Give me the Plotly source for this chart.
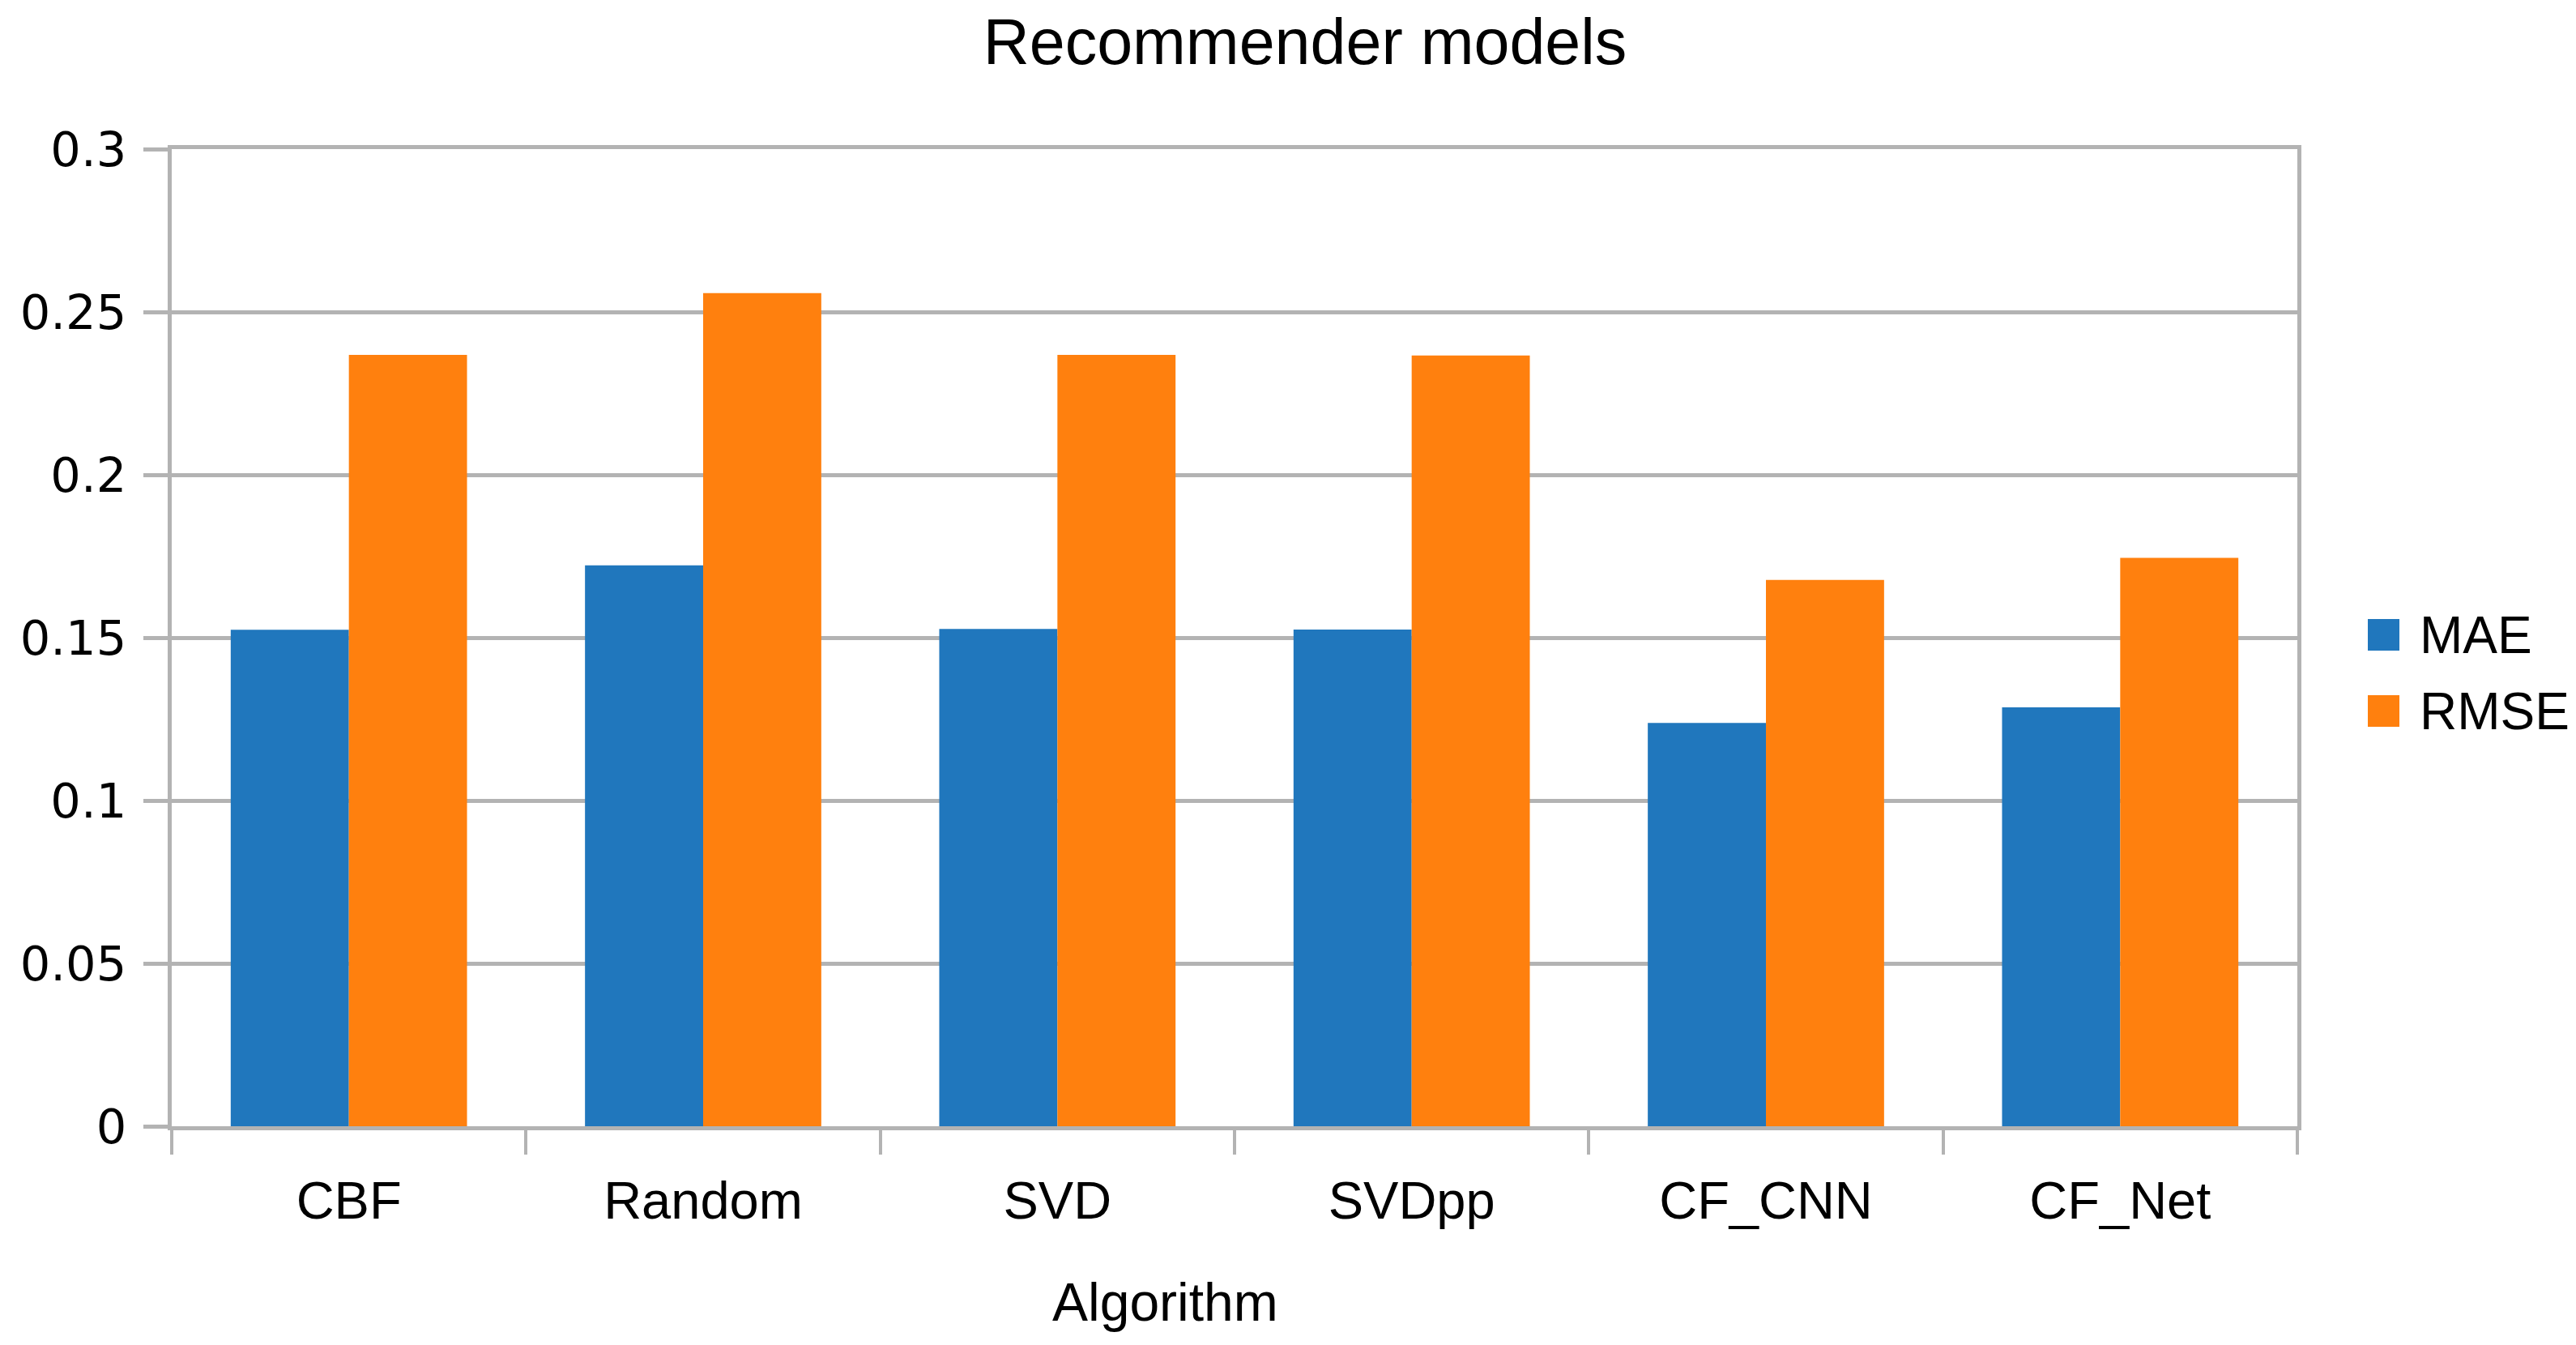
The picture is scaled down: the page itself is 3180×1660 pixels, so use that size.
import plotly.graph_objects as go

# ---- data ----
categories = ["CBF", "Random", "SVD", "SVDpp", "CF_CNN", "CF_Net"]
mae = [0.1524, 0.1722, 0.1527, 0.1525, 0.1238, 0.1286]
rmse = [0.2368, 0.2558, 0.2368, 0.2366, 0.1677, 0.1745]
series_names = ["MAE", "RMSE"]
y_tickvals = [0, 0.05, 0.1, 0.15, 0.2, 0.25, 0.3]
y_ticktext = ["0", "0.05", "0.1", "0.15", "0.2", "0.25", "0.3"]
title_text = "Recommender models"
x_title = "Algorithm"

# ---- styles ----
W, H = 3180, 1660
OFF = 7  # page body margin offset
L, T = 211 - OFF, 183 - OFF
R = W - (2835 - OFF)
B = H - (1389 - OFF)
BLUE = "#2077bd"
ORANGE = "#ff800e"
GRID = "#b3b3b3"
SANS = "Liberation Sans, Arial, sans-serif"
DEJAVU = "DejaVu Sans, sans-serif"

pw, ph = W - L - R, H - T - B


def px_x(x):
    # x given in reference screenshot pixels
    return (x - OFF - L) / pw


def px_y(y):
    return (H - B - (y - OFF)) / ph


fig = go.Figure()
fig.add_trace(go.Bar(x=categories, y=mae, name=series_names[0],
                     marker=dict(color=BLUE, line=dict(width=0)), showlegend=False))
fig.add_trace(go.Bar(x=categories, y=rmse, name=series_names[1],
                     marker=dict(color=ORANGE, line=dict(width=0)), showlegend=False))

# manual legend (big square swatches)
legend_items = [(series_names[0], BLUE, 763), (series_names[1], ORANGE, 857)]
shapes = []
annotations = []
for name, col, top in legend_items:
    shapes.append(dict(type="rect", xref="paper", yref="paper",
                       x0=px_x(2922), x1=px_x(2961), y0=px_y(top + 39), y1=px_y(top),
                       fillcolor=col, line=dict(width=0)))
    annotations.append(dict(text=name, xref="paper", yref="paper",
                            x=px_x(2984), y=px_y(top + 20), xanchor="left", yanchor="middle",
                            showarrow=False, font=dict(family=SANS, size=64, color="black")))

annotations.append(dict(text=x_title, xref="paper", yref="paper",
                        x=px_x(1437), y=px_y(1606), xanchor="center", yanchor="middle",
                        showarrow=False, font=dict(family=SANS, size=66, color="black")))

fig.update_layout(
    width=W, height=H,
    margin=dict(l=L, r=R, t=T, b=B, autoexpand=False),
    paper_bgcolor="white", plot_bgcolor="white",
    title=dict(text=title_text, xref="container", yref="container",
               x=(1610 - OFF) / W, y=1 - (50 - OFF) / H, xanchor="center", yanchor="middle",
               font=dict(family=SANS, size=79, color="black")),
    barmode="group", bargap=0.333, bargroupgap=0,
    showlegend=False,
    shapes=shapes, annotations=annotations,
    xaxis=dict(type="category", tickson="boundaries", ticks="outside", ticklen=30,
               tickwidth=4, tickcolor=GRID, showline=True, linecolor=GRID, linewidth=5,
               mirror=True, showgrid=False, zeroline=False, ticklabelstandoff=31,
               tickfont=dict(family=SANS, size=65, color="black")),
    yaxis=dict(range=[0, 0.3], tickvals=y_tickvals, ticktext=y_ticktext,
               ticks="outside", ticklen=30, tickwidth=5, tickcolor=GRID,
               showline=True, linecolor=GRID, linewidth=5, mirror=True,
               showgrid=True, gridcolor=GRID, gridwidth=5, zeroline=False,
               ticklabelstandoff=9,
               tickfont=dict(family=DEJAVU, size=59, color="black")),
)

fig.write_html("out.html")
